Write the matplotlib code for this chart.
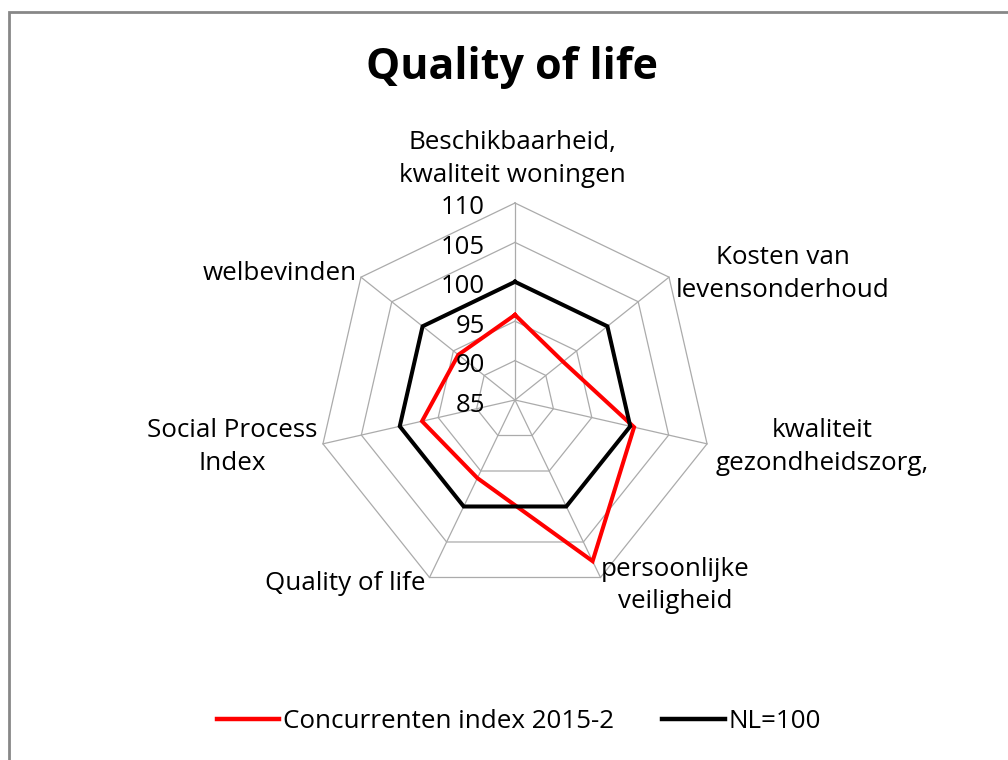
import numpy as np
import matplotlib
matplotlib.use('Agg')
import matplotlib.pyplot as plt
from matplotlib.patches import Rectangle
from matplotlib.lines import Line2D

categories = ["Beschikbaarheid,\nkwaliteit woningen", "Kosten van\nlevensonderhoud",
              "kwaliteit\ngezondheidszorg,", "persoonlijke\nveiligheid", "Quality of life",
              "Social Process\nIndex", "welbevinden"]
concurrenten = [95.8, 92.8, 100.5, 107.7, 96.0, 97.1, 94.2]
nl100 = [100, 100, 100, 100, 100, 100, 100]
ticks = [85, 90, 95, 100, 105, 110]
tick_labels = ["85", "90", "95", "100", "105", "110"]
title = "Quality of life"
series_names = ["Concurrenten index 2015-2", "NL=100"]

plt.rcParams['font.family'] = ['Open Sans', 'DejaVu Sans']

W, H = 1008, 760
fig = plt.figure(figsize=(W / 100, H / 100), dpi=100)
fig.patch.set_facecolor('white')

cx, cy, R = 515, 400, 197
ax = fig.add_axes([(cx - R) / W, (H - cy - R) / H, 2 * R / W, 2 * R / H], projection='polar')
ax.set_theta_zero_location('N')
ax.set_theta_direction(-1)
ax.set_ylim(ticks[0], ticks[-1])
ax.axis('off')

n = len(categories)
angles = np.arange(n) * 2 * np.pi / n
closed = np.append(angles, angles[0])

grid_c = '#ABABAB'
for t in ticks[1:]:
    ax.plot(closed, [t] * (n + 1), color=grid_c, lw=0.9, zorder=1, clip_on=False)
for a in angles:
    ax.plot([a, a], [ticks[0], ticks[-1]], color=grid_c, lw=0.9, zorder=1, clip_on=False)

ax.plot(closed, concurrenten + concurrenten[:1], color='#FF0000', lw=2.9, zorder=3,
        clip_on=False, solid_joinstyle='miter')
ax.plot(closed, nl100 + nl100[:1], color='black', lw=2.9, zorder=4,
        clip_on=False, solid_joinstyle='miter')

px = 0.72
# radial tick labels
for t, lbl in zip(ticks, tick_labels):
    ax.annotate(lbl, xy=(0, t), xytext=(-30 * px, -5 * px), textcoords='offset points',
                ha='right', va='center', fontsize=18.5, color='black', annotation_clip=False)

# category labels: (offset in px, ha, va)
lab_specs = [
    ((-3, 44), 'center', 'center'),
    ((7, 3), 'left', 'center'),
    ((9, -3), 'left', 'center'),
    ((0, -8), 'left', 'center'),
    ((-4.5, -6.5), 'right', 'center'),
    ((-6, -3), 'right', 'center'),
    ((-4, 3.5), 'right', 'center'),
]
for a, lbl, (off, ha, va) in zip(angles, categories, lab_specs):
    ax.annotate(lbl, xy=(a, ticks[-1]), xytext=(off[0] * px, off[1] * px),
                textcoords='offset points', ha=ha, va=va, multialignment='center',
                fontsize=18.7, linespacing=1.42, annotation_clip=False)

fig.text(0.508, 1 - 79 / H, title, ha='center', va='baseline', fontsize=31,
         fontweight='bold')

handles = [Line2D([], [], color='#FF0000', lw=3.2), Line2D([], [], color='black', lw=3.2)]
fig.legend(handles=handles, labels=series_names, loc='center', bbox_to_anchor=(519 / W, 1 - 722 / H),
           ncol=2, frameon=False, fontsize=18.7, handlelength=2.4, handletextpad=0.15,
           columnspacing=1.85, borderpad=0, borderaxespad=0)

fig.patches.append(Rectangle((8.5 / W, -0.1), 1.2, (H - 11.5) / H + 0.1, transform=fig.transFigure,
                             fill=False, edgecolor='#878787', lw=2.0, zorder=10))

fig.savefig('out.png', dpi=100)
